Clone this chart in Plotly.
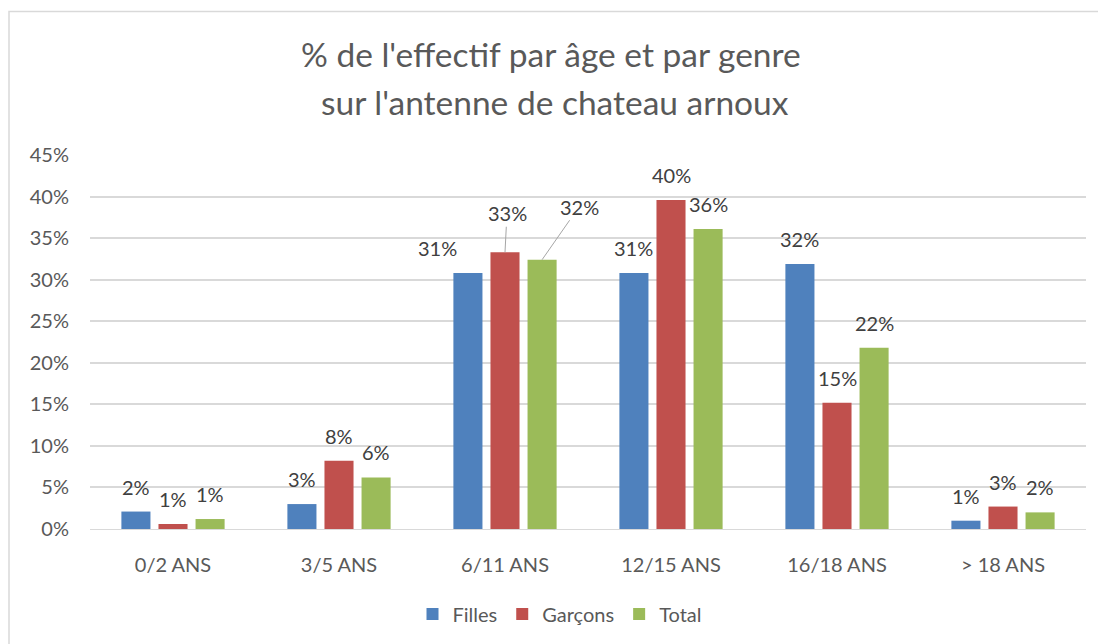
import plotly.graph_objects as go

categories = ["0/2 ANS", "3/5 ANS", "6/11 ANS", "12/15 ANS", "16/18 ANS", "> 18 ANS"]
filles = [2.1, 3.0, 30.8, 30.8, 31.9, 1.0]
garcons = [0.6, 8.2, 33.3, 39.6, 15.2, 2.7]
total = [1.2, 6.2, 32.4, 36.1, 21.8, 2.0]
series_names = ["Filles", "Garçons", "Total"]
colors = ["#4F81BD", "#C0504D", "#9BBB59"]
tick_vals = [0, 5, 10, 15, 20, 25, 30, 35, 40, 45]
tick_text = [f"{v}%" for v in tick_vals]

FONT = "Lato"
W, H = 1098, 644
ML, MR, MT, MB = 90, 12, 155, 114
BARGAP = 0.33
BARGROUPGAP = 0.216
pw = W - ML - MR
ph = H - MT - MB

fig = go.Figure()
all_series = [filles, garcons, total]
for name, vals, col in zip(series_names, all_series, colors):
    fig.add_trace(go.Bar(
        x=categories, y=vals, name=name,
        marker=dict(color=col, line=dict(width=0)),
        hoverinfo="skip",
    ))

# data labels
slot = (1 - BARGAP) / 3
special = {
    (0, 2): dict(xshift=-30, yshift=25),
}
arrows = {
    (1, 2): dict(ax=2, ay=-39),
    (2, 2): dict(ax=37, ay=-53),
}
annotations = []
for j, vals in enumerate(all_series):
    for i, v in enumerate(vals):
        xpos = i + (j - 1) * slot
        label = f"{round(v):d}%"
        if (j, i) in arrows:
            a = arrows[(j, i)]
            annotations.append(dict(
                x=xpos, y=v, xref="x", yref="y", text=label,
                showarrow=True, arrowhead=0, arrowwidth=1, arrowcolor="#A6A6A6",
                ax=a["ax"], ay=a["ay"], standoff=0,
                font=dict(family=FONT, size=20, color="#404040"),
            ))
        else:
            sh = special.get((j, i), dict(xshift=0, yshift=25))
            annotations.append(dict(
                x=xpos, y=v, xref="x", yref="y", text=label,
                showarrow=False, yanchor="middle", xanchor="center",
                xshift=sh["xshift"], yshift=sh["yshift"],
                font=dict(family=FONT, size=20, color="#404040"),
            ))

# title lines (pixel positions converted to paper coordinates)
title_lines = ["% de l'effectif par âge et par genre", "sur l'antenne de chateau arnoux"]
for t, xpix, ypix in zip(title_lines, [551, 555], [54, 102]):
    annotations.append(dict(
        x=(xpix - ML) / pw, y=(H - MB - ypix) / ph, xref="paper", yref="paper", text=t,
        showarrow=False, xanchor="center", yanchor="middle",
        font=dict(family=FONT, size=33.5, color="#595959"),
    ))

border = dict(
    type="rect", xref="paper", yref="paper",
    x0=(9 - ML) / pw, x1=(W + 20 - ML) / pw,
    y0=(H - MB - (H + 20)) / ph, y1=(H - MB - 11) / ph,
    line=dict(color="#D9D9D9", width=1.5), fillcolor="rgba(0,0,0,0)", layer="below",
)

fig.update_layout(
    width=W, height=H,
    margin=dict(l=ML, r=MR, t=MT, b=MB),
    paper_bgcolor="white", plot_bgcolor="white",
    barmode="group", bargap=BARGAP, bargroupgap=BARGROUPGAP,
    font=dict(family=FONT, color="#595959"),
    showlegend=True,
    legend=dict(orientation="h", x=(560 - ML) / pw, xanchor="center", y=-(614 - (H - MB)) / ph, yanchor="middle",
                font=dict(family=FONT, size=20, color="#595959"), itemwidth=30,
                traceorder="normal"),
    annotations=annotations,
    shapes=[border],
    xaxis=dict(
        showgrid=False, showline=True, linecolor="#D9D9D9", linewidth=1,
        ticks="", tickfont=dict(family=FONT, size=20, color="#595959"),
        ticklabelstandoff=18, fixedrange=True,
    ),
    yaxis=dict(
        range=[0, 45], tickvals=tick_vals, ticktext=tick_text,
        showgrid=True, gridcolor="#D9D9D9", gridwidth=1.5,
        zeroline=False, showline=False, ticks="",
        tickfont=dict(family=FONT, size=20, color="#595959"),
        ticklabelstandoff=20, fixedrange=True,
    ),
)

fig.write_html(
    "out.html",
    config={"displayModeBar": False},
    post_script="document.body.style.margin='0';document.body.style.overflow='hidden';",
)
